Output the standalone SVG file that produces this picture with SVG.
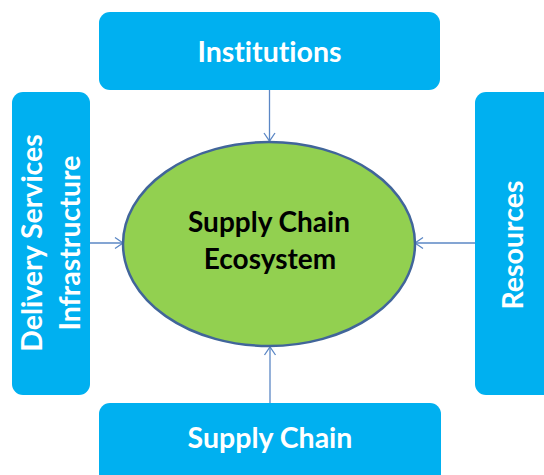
<svg xmlns="http://www.w3.org/2000/svg" width="544" height="475" viewBox="0 0 544 475">
<style>
.box{fill:#00B0F0;}
.lbl{font-family:Lato,"Open Sans","Liberation Sans",sans-serif;font-weight:bold;font-size:28.5px;fill:#FFFFFF;text-anchor:middle;font-variant-ligatures:none;}
.ctr{font-family:Lato,"Open Sans","Liberation Sans",sans-serif;font-weight:bold;font-size:28px;fill:#000000;text-anchor:middle;font-variant-ligatures:none;}
.conn{stroke:#5B87C5;stroke-width:1.3;fill:none;marker-end:url(#arr);}
</style>
<defs>
<marker id="arr" markerUnits="userSpaceOnUse" markerWidth="14" markerHeight="14" refX="9" refY="7" orient="auto">
<path d="M1,1.5 L9,7 L1,12.5" fill="none" stroke="#5B87C5" stroke-width="1.3"/>
</marker>
</defs>
<g id="connectors">
<line class="conn" x1="269.5" y1="90" x2="269.5" y2="141"/>
<line class="conn" x1="90" y1="243" x2="123" y2="243"/>
<line class="conn" x1="475" y1="243" x2="415" y2="243"/>
<line class="conn" x1="270" y1="403" x2="270" y2="347"/>
</g>
<g id="institutions">
<rect class="box" x="99" y="12" width="341" height="78" rx="11"/>
<text class="lbl" x="269.5" y="62">Institutions</text>
</g>
<g id="delivery">
<rect class="box" x="12" y="92" width="78" height="303" rx="11"/>
<text class="lbl" transform="translate(42,243) rotate(-90)">Delivery Services</text>
<text class="lbl" transform="translate(80,243) rotate(-90)">Infrastructure</text>
</g>
<g id="resources">
<rect class="box" x="475" y="92" width="80" height="303" rx="11"/>
<text class="lbl" transform="translate(523,245) rotate(-90)">Resources</text>
</g>
<g id="supplychain">
<rect class="box" x="99" y="403" width="342" height="90" rx="11"/>
<text class="lbl" x="270" y="448">Supply Chain</text>
</g>
<g id="ecosystem">
<ellipse cx="269" cy="244" rx="146" ry="102" fill="#92D050" stroke="#41659A" stroke-width="2.5"/>
<text class="ctr" x="269" y="232">Supply Chain</text>
<text class="ctr" x="270" y="269">Ecosystem</text>
</g>
</svg>
